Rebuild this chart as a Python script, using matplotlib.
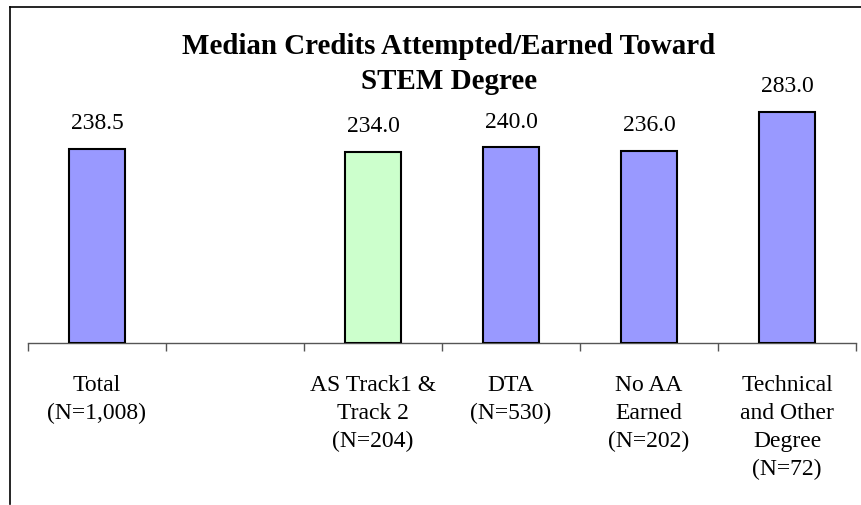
import matplotlib.pyplot as plt
from matplotlib.lines import Line2D

categories = [
    "Total\n(N=1,008)",
    "",
    "AS Track1 &\nTrack 2\n(N=204)",
    "DTA\n(N=530)",
    "No AA\nEarned\n(N=202)",
    "Technical\nand Other\nDegree\n(N=72)",
]
values = [238.5, None, 234.0, 240.0, 236.0, 283.0]
bar_colors = ["#9999FF", None, "#CCFFCC", "#9999FF", "#9999FF", "#9999FF"]
title = "Median Credits Attempted/Earned Toward\nSTEM Degree"

plt.rcParams["font.family"] = ["Liberation Serif", "DejaVu Serif"]

W, H = 862, 506
fig = plt.figure(figsize=(W / 100, H / 100), dpi=100)
ax = fig.add_axes([28 / W, 162 / H, 828 / W, 244.5 / H])

positions = list(range(len(categories)))
for pos, val, col in zip(positions, values, bar_colors):
    if val is None:
        continue
    ax.bar(pos, val, width=0.41, color=col, edgecolor="black", linewidth=1.5, zorder=3)
    ax.annotate(f"{val:.1f}", (pos, val), xytext=(0, 19), textcoords="offset points",
                ha="center", va="center", fontsize=17)

ax.set_xlim(-0.5, len(categories) - 0.5)
ax.set_ylim(0, 300)
ax.set_yticks([])
ax.set_xticks(positions)
ax.set_xticklabels(categories, fontsize=17, linespacing=1.45)
ax.tick_params(axis="x", which="major", length=0, pad=22)
ax.set_xticks([p - 0.5 for p in positions] + [len(categories) - 0.5], minor=True)
ax.tick_params(axis="x", which="minor", length=6, width=1, color="#555555", direction="out")
for side in ["top", "right", "left"]:
    ax.spines[side].set_visible(False)
ax.spines["bottom"].set_color("#555555")
ax.spines["bottom"].set_linewidth(1)
ax.patch.set_alpha(0)

fig.text(449 / W, 1 - 64 / H, title, ha="center", va="center", fontsize=20.9,
         fontweight="bold", linespacing=1.4)

# chart frame (top and left edge visible)
fig.add_artist(Line2D([10 / W, 1], [1 - 8 / H, 1 - 8 / H], color="black", linewidth=1.2))
fig.add_artist(Line2D([10 / W, 10 / W], [1 - 8 / H, 1 / H], color="black", linewidth=1.2))

fig.savefig("out.png", dpi=100)
